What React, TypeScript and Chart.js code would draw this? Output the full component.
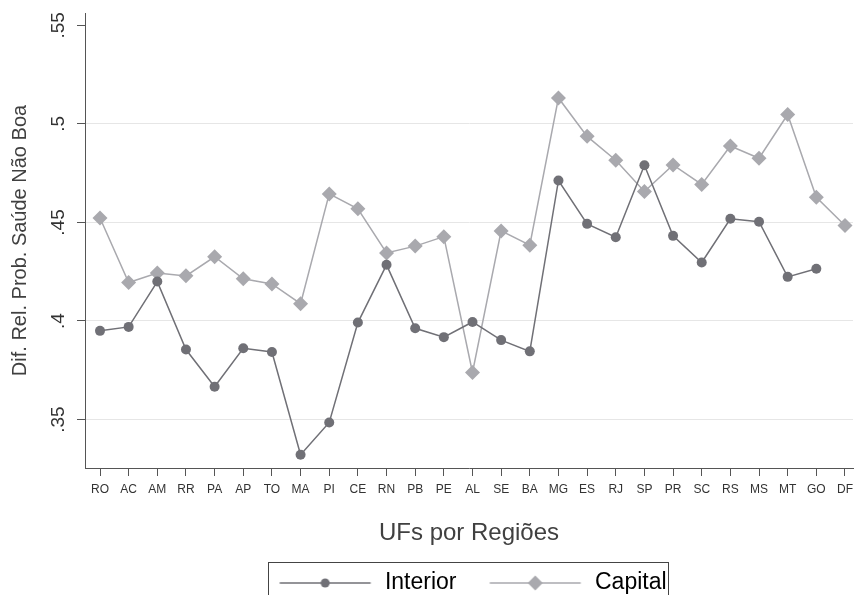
import { useEffect, useRef } from "react";
import { Chart, registerables } from "chart.js";

Chart.register(...registerables);

const categories = ["RO", "AC", "AM", "RR", "PA", "AP", "TO", "MA", "PI", "CE", "RN", "PB", "PE", "AL", "SE", "BA", "MG", "ES", "RJ", "SP", "PR", "SC", "RS", "MS", "MT", "GO", "DF"];
const interior = [0.395, 0.397, 0.42, 0.3855, 0.3666, 0.3862, 0.3843, 0.3321, 0.3485, 0.3992, 0.4285, 0.3963, 0.3918, 0.3995, 0.3903, 0.3846, 0.4713, 0.4493, 0.4425, 0.479, 0.4432, 0.4297, 0.4519, 0.4504, 0.4224, 0.4265, null];
const capital = [0.4523, 0.4195, 0.4244, 0.4229, 0.4326, 0.4214, 0.4188, 0.4088, 0.4645, 0.4569, 0.4345, 0.438, 0.4428, 0.3739, 0.4457, 0.4385, 0.5132, 0.4937, 0.4816, 0.4657, 0.4792, 0.4693, 0.4888, 0.4826, 0.5048, 0.4628, 0.4485];
const yTicks = [0.35, 0.4, 0.45, 0.5, 0.55];
const yTickLabels = [".35", ".4", ".45", ".5", ".55"];
const seriesNames = ["Interior", "Capital"];

const FONT = "'Liberation Sans', Arial, Helvetica, sans-serif";
const C_INT = "#707076";
const C_CAP = "#a9a9ae";
const SYM_LEFT = 8;
const SYM_W = 8 + 91 + 2.5;

function makeSymbol(color: string, style: string, r: number) {
  const c = document.createElement("canvas");
  c.width = Math.round(SYM_W);
  c.height = 24;
  const g = c.getContext("2d")!;
  const x0 = SYM_LEFT + (c.width - SYM_W) / 2;
  const cx = x0 + 45.5;
  g.strokeStyle = color;
  g.lineWidth = 1.5;
  g.beginPath();
  g.moveTo(x0, 12);
  g.lineTo(x0 + 91, 12);
  g.stroke();
  g.fillStyle = color;
  g.beginPath();
  if (style === "circle") {
    g.arc(cx, 12, r, 0, Math.PI * 2);
  } else {
    g.moveTo(cx, 12 - r);
    g.lineTo(cx + r, 12);
    g.lineTo(cx, 12 + r);
    g.lineTo(cx - r, 12);
    g.closePath();
  }
  g.fill();
  return c;
}

const legendBox = {
  id: "legendBox",
  afterDraw(chart: any) {
    const lg = chart.legend;
    const hb = lg && lg.legendHitBoxes;
    if (!hb || !hb.length) return;
    const ctx = chart.ctx;
    const first = hb[0];
    const last = hb[hb.length - 1];
    const cy = first.top + first.height / 2;
    const left = Math.round(first.left + SYM_LEFT - 11) + 0.5;
    const right = Math.round(last.left + last.width + 1) + 0.5;
    const top = Math.round(cy - 21) + 0.5;
    ctx.save();
    ctx.strokeStyle = "#444";
    ctx.lineWidth = 1;
    ctx.strokeRect(left, top, right - left, 100);
    ctx.restore();
  },
};

export default function App() {
  const ref = useRef<HTMLCanvasElement | null>(null);

  useEffect(() => {
    if (!ref.current) return;
    const symInt = makeSymbol(C_INT, "circle", 4.5);
    const symCap = makeSymbol(C_CAP, "diamond", 7.5);
    const chart = new Chart(ref.current, {
      type: "line",
      data: {
        datasets: [
          {
            label: seriesNames[0],
            data: interior.map((v, i) => ({ x: i, y: v })),
            borderColor: C_INT,
            backgroundColor: C_INT,
            borderWidth: 1.5,
            pointStyle: "circle",
            pointRadius: 5,
            pointBorderWidth: 0,
            pointBackgroundColor: C_INT,
            spanGaps: false,
          },
          {
            label: seriesNames[1],
            data: capital.map((v, i) => ({ x: i, y: v })),
            borderColor: C_CAP,
            backgroundColor: C_CAP,
            borderWidth: 1.5,
            pointStyle: "rectRot",
            pointRadius: 7.5,
            pointBorderWidth: 0,
            pointBackgroundColor: C_CAP,
          },
        ],
      },
      options: {
        animation: false,
        responsive: false,
        devicePixelRatio: 1,
        layout: { autoPadding: false, padding: { top: 13, right: 1, left: 0, bottom: 0 } },
        plugins: {
          tooltip: { enabled: false },
          legend: {
            position: "bottom",
            fullSize: false,
            maxHeight: 48.5,
            labels: {
              usePointStyle: true,
              pointStyleWidth: Math.round(SYM_W),
              padding: 25,
              color: "#404040",
              font: { family: FONT, size: 23 },
              generateLabels: () => [
                { text: seriesNames[0], pointStyle: symInt, fillStyle: C_INT, strokeStyle: C_INT, lineWidth: 0, hidden: false, datasetIndex: 0 },
                { text: seriesNames[1], pointStyle: symCap, fillStyle: C_CAP, strokeStyle: C_CAP, lineWidth: 0, hidden: false, datasetIndex: 1 },
              ],
            },
          },
        },
        scales: {
          x: {
            type: "linear",
            bounds: "data",
            min: -0.5236,
            max: 26.28,
            afterBuildTicks: (s: any) => {
              s.ticks = categories.map((_, i) => ({ value: i }));
            },
            afterFit: (s: any) => {
              s.height = 78.5;
              s.paddingLeft = 0;
              s.paddingRight = 0;
            },
            ticks: {
              autoSkip: false,
              maxRotation: 0,
              minRotation: 0,
              padding: 6,
              color: "#333",
              font: { family: FONT, size: 12 },
              callback: (v: any) => categories[v as number] ?? "",
            },
            grid: {
              drawOnChartArea: false,
              tickLength: 8,
              tickColor: "#555",
              tickWidth: 1,
            },
            border: { color: "#555", width: 1 },
            title: {
              display: true,
              text: "UFs por Regiões",
              color: "#404040",
              font: { family: FONT, size: 24 },
              padding: { top: 0, bottom: -0.9 },
            },
          },
          y: {
            type: "linear",
            bounds: "data",
            min: 0.3254,
            max: 0.5563,
            afterBuildTicks: (s: any) => {
              s.ticks = yTicks.map((v) => ({ value: v }));
            },
            afterFit: (s: any) => {
              s.width = 85;
              s.paddingTop = 0;
              s.paddingBottom = 0;
            },
            ticks: {
              minRotation: 90,
              maxRotation: 90,
              crossAlign: "center",
              padding: 5,
              color: "#333",
              font: { family: FONT, size: 19 },
              callback: (v: any) => {
                const i = yTicks.findIndex((t) => Math.abs(t - (v as number)) < 1e-9);
                return i >= 0 ? yTickLabels[i] : "";
              },
            },
            grid: {
              color: (ctx: any) => (ctx.tick && Math.abs(ctx.tick.value - 0.55) < 1e-9 ? "rgba(0,0,0,0)" : "#e6e6e6"),
              lineWidth: 1,
              tickLength: 8,
              tickColor: "#555",
              tickWidth: 1,
            },
            border: { color: "#555", width: 1 },
            title: {
              display: true,
              text: "Dif. Rel. Prob. Saúde Não Boa",
              color: "#404040",
              font: { family: FONT, size: 20 },
              padding: { top: 8, bottom: 0 },
            },
          },
        },
      } as any,
      plugins: [legendBox],
    });
    return () => chart.destroy();
  }, []);

  return (
    <div style={{ position: "absolute", left: 0, top: 0, width: 854, height: 595, background: "#fff" }}>
      <canvas ref={ref} width={854} height={595} style={{ display: "block", width: 854, height: 595 }} />
    </div>
  );
}
